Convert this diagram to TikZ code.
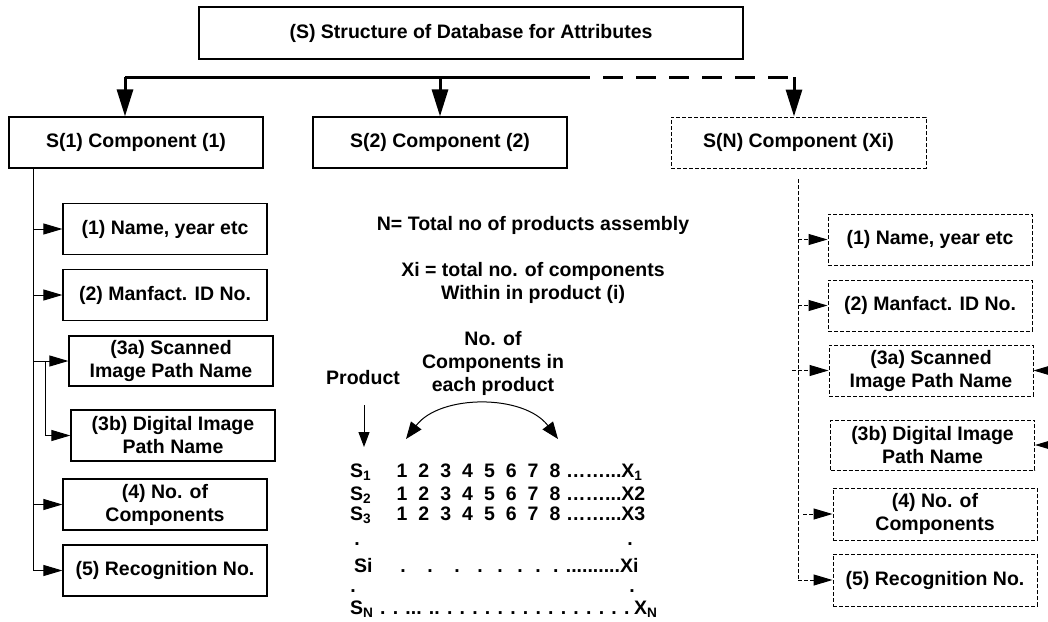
\documentclass[tikz,border=0pt]{standalone}
\usepackage{fontspec}
\setmainfont{Liberation Sans}
\usetikzlibrary{arrows.meta}
\begin{document}
\begin{tikzpicture}[x=1pt,y=-1pt,
  txt/.style={font=\fontsize{19.5}{23}\selectfont\bfseries, align=center, inner sep=0pt},
  box/.style={txt, draw, line width=1.2pt, minimum width=204pt, minimum height=51pt},
  dbox/.style={box, line width=1pt, dash pattern=on 4pt off 2pt},
  lnk/.style={line width=1pt, -{Triangle[length=19pt,width=11pt]}},
  dlnk/.style={lnk, dash pattern=on 4pt off 2pt},
  dline/.style={line width=1pt, dash pattern=on 4pt off 2pt},
  bus/.style={line width=3pt},
  drop/.style={bus, -{Triangle[length=27pt,width=16pt]}},
  thin/.style={line width=1pt},
]
\useasboundingbox (0,0) rectangle (1048,621);
\clip (0,0) rectangle (1048,621);

% ---- top level ----
\node[box, minimum width=544pt, minimum height=52pt] (top) at (471,33) {(S) Structure of Database for Attributes};

\node[box, minimum width=254pt] (s1) at (136,142.5) {S(1) Component (1)};
\node[box, minimum width=254pt] (s2) at (440,142.5) {S(2) Component (2)};
\node[dbox, minimum width=255pt] (sn) at (798.5,142.5) {S(N) Component (Xi)};

\coordinate (b1) at (125,77);
\coordinate (b2) at (440,77);
\coordinate (bm) at (570,77);
\coordinate (b3) at (794,77);
\draw[bus] (b1) -- (bm);
\draw[bus, dash pattern=on 20pt off 13pt] (bm) -- (b3);
\draw[drop] (b1) -- (b1 |- s1.north);
\draw[drop] (b2) -- (b2 |- s2.north);
\draw[drop] (b3) -- (b3 |- sn.north);

% ---- attributes of component 1 ----
\node[box] (a1) at (165,229) {(1) Name, year etc};
\node[box] (a2) at (165,295) {(2) Manfact. ID No.};
\node[box, minimum height=50pt] (a3) at (171,361) {(3a) Scanned\\Image Path Name};
\node[box] (a4) at (173,435.5) {(3b) Digital Image\\Path Name};
\node[box] (a5) at (165,504.5) {(4) No. of\\Components};
\node[box] (a6) at (165,570.5) {(5) Recognition No.};

\coordinate (lt) at (33,168);
\draw[thin] (lt) -- (lt |- a6.west);
\draw[lnk] (lt |- a1.west) -- (a1.west);
\draw[lnk] (lt |- a2.west) -- (a2.west);
\draw[lnk] (lt |- a3.west) -- (a3.west);
\coordinate (lb) at (45,361);
\draw[lnk] (lb) |- (a4.west);
\draw[lnk] (lt |- a5.west) -- (a5.west);
\draw[lnk] (lt |- a6.west) -- (a6.west);

% ---- attributes of component Xi ----
\node[dbox] (c1) at (930,239.5) {(1) Name, year etc};
\node[dbox] (c2) at (930,305.5) {(2) Manfact. ID No.};
\node[dbox] (c3) at (931,370.5) {(3a) Scanned\\Image Path Name};
\node[dbox, minimum height=50pt] (c4) at (932.5,445) {(3b) Digital Image\\Path Name};
\node[dbox, minimum height=52pt] (c5) at (935,514) {(4) No. of\\Components};
\node[dbox, minimum height=52pt] (c6) at (935,580) {(5) Recognition No.};

\coordinate (rt) at (798,179);
\draw[dline] (rt) -- (rt |- c6.west);
\draw[dlnk] (rt |- c1.west) -- (c1.west);
\draw[dlnk] (rt |- c2.west) -- (c2.west);
\coordinate (r3) at (792,370.5);
\draw[dlnk] (r3) -- (c3.west);
\coordinate (r5) at (803,514);
\draw[dlnk] (r5) -- (c5.west);
\draw[dlnk] (rt |- c6.west) -- (c6.west);
\coordinate (e3) at (1062,370.5);
\coordinate (e4) at (1062,445);
\draw[lnk] (e3) -- (c3.east);
\draw[lnk] (e4) -- (c4.east);

% ---- notes ----
\node[txt, anchor=base] (n1) at (533,230) {N= Total no of products assembly};
\node[txt] (n2) at (533,283) {Xi = total no. of components\\Within in product (i)};
\node[txt] (n3) at (493,363) {No. of\\Components in\\each product};
\node[txt, anchor=base] (n4) at (363,384) {Product};

\coordinate (p0) at (364,405);
\coordinate (p1) at (364,447);
\draw[thin, -{Triangle[length=15pt,width=11pt]}] (p0) -- (p1);
\coordinate (k0) at (406,439);
\coordinate (k1) at (558,439);
\draw[thin, {Triangle[length=17pt,width=13pt]}-{Triangle[length=17pt,width=13pt]}]
  (k0) .. controls (440,394) and (524,394) .. (k1);

% ---- product / component table ----
\node[txt, anchor=base west] (sa) at (350,477) {S\textsubscript{1}};
\node[txt, anchor=base west] (sb) at (350,500) {S\textsubscript{2}};
\node[txt, anchor=base west] (sc) at (350,520) {S\textsubscript{3}};
\foreach \r/\yy in {a/477,b/500,c/520}
  \foreach \d in {1,...,8}
    \node[txt, anchor=base] (num\r\d) at ({402+21.86*(\d-1)},\yy) {\d};
\node[txt, anchor=base west] (xa) at (566,477) {……...X\textsubscript{1}};
\node[txt, anchor=base west] (xb) at (566,500) {……...X2};
\node[txt, anchor=base west] (xc) at (566,520) {……...X3};

\node[txt, anchor=base] (dl1) at (357,545) {.};
\node[txt, anchor=base] (dr1) at (630,545) {.};

\node[txt, anchor=base west] (si) at (354,572) {Si};
\foreach \xx [count=\k] in {403,430,457,480,500,520,538}
  \node[txt, anchor=base] (sd\k) at (\xx,572) {.};
\node[txt, anchor=base west] (xi) at (553,572) {. ..........Xi};

\node[txt, anchor=base] (dl2) at (353,592) {.};
\node[txt, anchor=base] (dr2) at (632,592) {.};

\node[txt, anchor=base west] (sN) at (350,614) {S\textsubscript{N}};
\node[txt, anchor=base west] (sNd) at (380,614) {. . ... .. . . . . . . . . . . . . . . .};
\node[txt, anchor=base west] (xN) at (634,614) {X\textsubscript{N}};
\end{tikzpicture}
\end{document}
